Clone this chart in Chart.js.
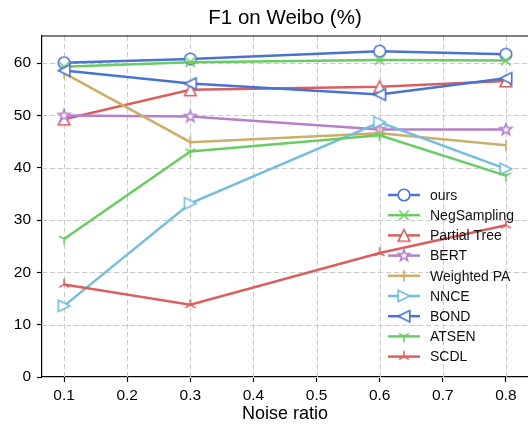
<!DOCTYPE html>
<html>
<head>
<meta charset="utf-8">
<script src="https://cdn.jsdelivr.net/npm/chart.js@4/dist/chart.umd.min.js"></script>
<style>
  html, body { margin: 0; padding: 0; background: #fff; }
  #chart { display: block; }
</style>
</head>
<body>
<canvas id="chart" width="528" height="428"></canvas>
<script>
/* F1 on Weibo (%) — line chart, 9 methods vs noise ratio */

const noiseRatio  = [0.1, 0.3, 0.6, 0.8];
const xTicks      = [0.1, 0.2, 0.3, 0.4, 0.5, 0.6, 0.7, 0.8];
const yTicks      = [0, 10, 20, 30, 40, 50, 60];

const ours        = [60.1, 60.8, 62.3, 61.7];
const negSampling = [59.3, 60.2, 60.6, 60.5];
const partialTree = [49.3, 54.9, 55.5, 56.6];
const bert        = [50.0, 49.8, 47.3, 47.3];
const weightedPA  = [58.1, 44.9, 46.6, 44.3];
const nnce        = [13.6, 33.2, 48.7, 39.8];
const bond        = [58.6, 56.1, 54.0, 57.1];
const atsen       = [26.4, 43.1, 46.2, 38.5];
const scdl        = [17.7, 13.8, 23.7, 29.0];

const methodNames = ['ours', 'NegSampling', 'Partial Tree', 'BERT', 'Weighted PA',
                     'NNCE', 'BOND', 'ATSEN', 'SCDL'];
const methodData  = [ours, negSampling, partialTree, bert, weightedPA,
                     nnce, bond, atsen, scdl];
const colors      = ['#4873cf', '#69cc63', '#d8605f', '#b67fca', '#cbae67',
                     '#74bddd', '#4873cf', '#69cc63', '#d8605f'];
const markers     = ['circle', 'x', 'triUp', 'star', 'vline',
                     'triRight', 'triLeft', 'tri1', 'tri2'];

const FONT = 'Liberation Sans, Arial, Helvetica, sans-serif';
const TITLE = 'F1 on Weibo (%)';

// draw matplotlib-like markers onto small canvases used as pointStyle
function makeMarker(kind, color) {
  const S = 20, c = document.createElement('canvas');
  c.width = S; c.height = S;
  const g = c.getContext('2d');
  const m = S / 2, r = 5.8;
  g.strokeStyle = color;
  g.fillStyle = '#fff';
  g.lineWidth = 1.6;
  g.beginPath();
  const poly = pts => {
    g.moveTo(m + pts[0][0], m + pts[0][1]);
    pts.slice(1).forEach(p => g.lineTo(m + p[0], m + p[1]));
    g.closePath(); g.fill(); g.stroke();
  };
  const arms = pts => {
    pts.forEach(p => { g.moveTo(m, m); g.lineTo(m + p[0], m + p[1]); });
    g.stroke();
  };
  switch (kind) {
    case 'circle':
      g.arc(m, m, r, 0, Math.PI * 2); g.fill(); g.stroke(); break;
    case 'x':
      g.moveTo(m - 4.8, m - 4.8); g.lineTo(m + 4.8, m + 4.8);
      g.moveTo(m + 4.8, m - 4.8); g.lineTo(m - 4.8, m + 4.8);
      g.stroke(); break;
    case 'triUp':
      poly([[0, -r], [-r, r], [r, r]]); break;
    case 'triRight':
      poly([[r, 0], [-r, -r], [-r, r]]); break;
    case 'triLeft':
      poly([[-r, 0], [r, -r], [r, r]]); break;
    case 'star': {
      const pts = [];
      for (let i = 0; i < 10; i++) {
        const rad = i % 2 ? r * 0.42 : r + 0.3;
        const a = -Math.PI / 2 + i * Math.PI / 5;
        pts.push([rad * Math.cos(a), rad * Math.sin(a)]);
      }
      poly(pts); break;
    }
    case 'vline':
      g.moveTo(m, m - r); g.lineTo(m, m + r); g.stroke(); break;
    case 'tri1':
      arms([[0, r], [0.866 * r, -0.5 * r], [-0.866 * r, -0.5 * r]]); break;
    case 'tri2':
      arms([[0, -r], [0.866 * r, 0.5 * r], [-0.866 * r, 0.5 * r]]); break;
  }
  return c;
}

const markerImgs = markers.map((k, i) => makeMarker(k, colors[i]));

const datasets = methodNames.map((name, i) => ({
  label: name,
  data: noiseRatio.map((x, j) => ({ x, y: methodData[i][j] })),
  borderColor: colors[i],
  backgroundColor: colors[i],
  borderWidth: 2.5,
  pointStyle: markerImgs[i],
  pointRadius: 6,
  pointHoverRadius: 6,
  tension: 0,
  clip: false,
  order: methodNames.length - 1 - i,
}));

// legend drawn inside the plot, no frame (like matplotlib frameon=False)
const insideLegend = {
  id: 'insideLegend',
  afterDraw(chart) {
    const ctx = chart.ctx;
    const x0 = 388, x1 = 420, tx = 430, y0 = 195, dy = 20.2;
    ctx.save();
    ctx.font = '14px ' + FONT;
    ctx.textBaseline = 'middle';
    ctx.fillStyle = '#111';
    methodNames.forEach((name, i) => {
      const y = y0 + i * dy;
      ctx.strokeStyle = colors[i];
      ctx.lineWidth = 2.5;
      ctx.beginPath(); ctx.moveTo(x0, y); ctx.lineTo(x1, y); ctx.stroke();
      const img = markerImgs[i];
      ctx.drawImage(img, (x0 + x1) / 2 - img.width / 2, y - img.height / 2);
      ctx.fillText(name, tx, y + 1);
    });
    ctx.restore();
  }
};

// dashed grid, top spine and title centred over the plot area
const frame = {
  id: 'frame',
  beforeDatasetsDraw(chart) {
    const { ctx, chartArea: a, scales } = chart;
    ctx.save();
    ctx.strokeStyle = '#cacaca';
    ctx.lineWidth = 1;
    ctx.setLineDash([5, 3]);
    xTicks.forEach(v => {
      const x = Math.round(scales.x.getPixelForValue(v)) + 0.5;
      ctx.beginPath(); ctx.moveTo(x, a.top); ctx.lineTo(x, a.bottom); ctx.stroke();
    });
    yTicks.forEach(v => {
      const y = Math.round(scales.y.getPixelForValue(v)) + 0.5;
      ctx.beginPath(); ctx.moveTo(a.left, y); ctx.lineTo(a.right, y); ctx.stroke();
    });
    ctx.restore();
  },
  afterDraw(chart) {
    const { ctx, chartArea: a } = chart;
    ctx.save();
    ctx.strokeStyle = '#000';
    ctx.lineWidth = 1.2;
    ctx.beginPath(); ctx.moveTo(a.left, a.top); ctx.lineTo(a.right, a.top); ctx.stroke();
    ctx.fillStyle = '#000';
    ctx.font = '20.5px ' + FONT;
    ctx.textAlign = 'center';
    ctx.textBaseline = 'middle';
    ctx.fillText(TITLE, (a.left + a.right) / 2, 18);
    ctx.restore();
  }
};

new Chart(document.getElementById('chart').getContext('2d'), {
  type: 'line',
  data: { datasets },
  options: {
    responsive: false,
    devicePixelRatio: 1,
    animation: false,
    layout: { autoPadding: false, padding: { top: 36, left: 0, right: 0, bottom: 0 } },
    plugins: {
      legend: { display: false },
      tooltip: { enabled: false },
      title: { display: false },
    },
    scales: {
      x: {
        type: 'linear',
        min: 0.065,
        max: 0.835,
        afterBuildTicks: s => { s.ticks = xTicks.map(v => ({ value: v })); },
        afterFit: s => { s.height = 51; s.paddingLeft = 0; s.paddingRight = 0; },
        ticks: {
          color: '#000',
          font: { family: FONT, size: 15.5 },
          padding: 4,
          maxRotation: 0,
          callback: v => v.toFixed(1),
        },
        grid: {
          drawOnChartArea: false,
          tickColor: '#000',
          tickLength: 5,
          tickWidth: 1.2,
        },
        border: { display: true, color: '#000', width: 1.2 },
        title: {
          display: true,
          text: 'Noise ratio',
          color: '#000',
          font: { family: FONT, size: 18 },
          padding: { top: 0, bottom: 3 },
        },
      },
      y: {
        min: 0,
        max: 65.2,
        afterBuildTicks: s => { s.ticks = yTicks.map(v => ({ value: v })); },
        afterFit: s => { s.width = 42; },
        ticks: {
          color: '#000',
          font: { family: FONT, size: 15.5 },
          padding: 6,
        },
        grid: {
          drawOnChartArea: false,
          tickColor: '#000',
          tickLength: 5,
          tickWidth: 1.2,
        },
        border: { display: true, color: '#000', width: 1.2 },
      },
    },
  },
  plugins: [insideLegend, frame],
});
</script>
</body>
</html>
